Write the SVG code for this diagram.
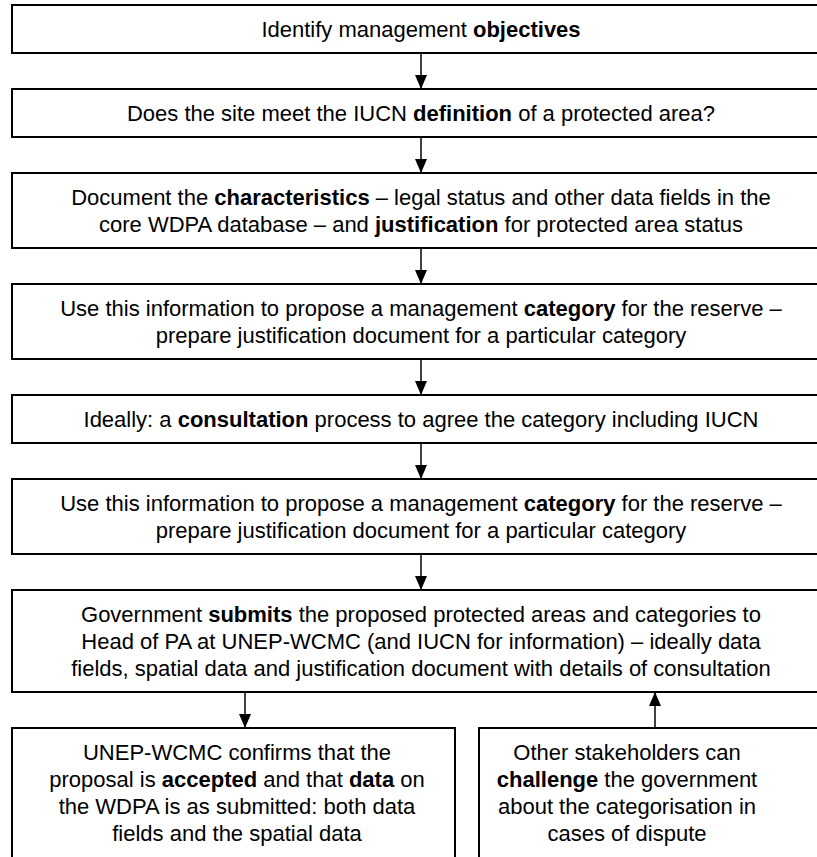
<svg xmlns="http://www.w3.org/2000/svg" width="817" height="857" viewBox="0 0 817 857">
<defs>
<marker id="ah" viewBox="0 0 14 12" refX="14" refY="6" markerWidth="14" markerHeight="12" markerUnits="userSpaceOnUse" orient="auto">
<path d="M0,0 L14,6 L0,12 z" fill="#000"/>
</marker>
<style>
.box{fill:#fff;stroke:#000;stroke-width:2}
.t{font-family:"Liberation Sans",Arial,sans-serif;font-size:22px;fill:#000;text-anchor:middle}
.b{font-weight:bold}
.c{stroke:#000;stroke-width:1.5;fill:none;marker-end:url(#ah)}
</style>
</defs>
<rect width="817" height="857" fill="#fff"/>
<g id="n1"><rect class="box" x="12" y="5" width="820" height="48"/>
<text class="t" x="421" y="37">Identify management <tspan class="b">objectives</tspan></text></g>
<g id="n2"><rect class="box" x="12" y="89" width="820" height="48"/>
<text class="t" x="421" y="121">Does the site meet the IUCN <tspan class="b">definition</tspan> of a protected area?</text></g>
<g id="n3"><rect class="box" x="12" y="173" width="820" height="75"/>
<text class="t" x="421" y="205">Document the <tspan class="b">characteristics</tspan> – legal status and other data fields in the</text>
<text class="t" x="421" y="232">core WDPA database – and <tspan class="b">justification</tspan> for protected area status</text></g>
<g id="n4"><rect class="box" x="12" y="284" width="820" height="75"/>
<text class="t" x="421" y="316">Use this information to propose a management <tspan class="b">category</tspan> for the reserve –</text>
<text class="t" x="421" y="343">prepare justification document for a particular category</text></g>
<g id="n5"><rect class="box" x="12" y="395" width="820" height="48"/>
<text class="t" x="421" y="427">Ideally: a <tspan class="b">consultation</tspan> process to agree the category including IUCN</text></g>
<g id="n6"><rect class="box" x="12" y="479" width="820" height="75"/>
<text class="t" x="421" y="511">Use this information to propose a management <tspan class="b">category</tspan> for the reserve –</text>
<text class="t" x="421" y="538">prepare justification document for a particular category</text></g>
<g id="n7"><rect class="box" x="12" y="590" width="820" height="102"/>
<text class="t" x="421" y="622">Government <tspan class="b">submits</tspan> the proposed protected areas and categories to</text>
<text class="t" x="421" y="649">Head of PA at UNEP-WCMC (and IUCN for information) – ideally data</text>
<text class="t" x="421" y="676">fields, spatial data and justification document with details of consultation</text></g>
<g id="n8"><rect class="box" x="12" y="728" width="443" height="150"/>
<text class="t" x="237" y="760">UNEP-WCMC confirms that the</text>
<text class="t" x="237" y="787">proposal is <tspan class="b">accepted</tspan> and that <tspan class="b">data</tspan> on</text>
<text class="t" x="237" y="814">the WDPA is as submitted: both data</text>
<text class="t" x="237" y="841">fields and the spatial data</text></g>
<g id="n9"><rect class="box" x="479" y="728" width="360" height="150"/>
<text class="t" x="627" y="760">Other stakeholders can</text>
<text class="t" x="627" y="787"><tspan class="b">challenge</tspan> the government</text>
<text class="t" x="627" y="814">about the categorisation in</text>
<text class="t" x="627" y="841">cases of dispute</text></g>
<g id="connectors">
<line class="c" x1="421" y1="53" x2="421" y2="89"/>
<line class="c" x1="421" y1="137" x2="421" y2="173"/>
<line class="c" x1="421" y1="248" x2="421" y2="284"/>
<line class="c" x1="421" y1="359" x2="421" y2="395"/>
<line class="c" x1="421" y1="443" x2="421" y2="479"/>
<line class="c" x1="421" y1="554" x2="421" y2="590"/>
<line class="c" x1="245" y1="692" x2="245" y2="728"/>
<line class="c" x1="655" y1="728" x2="655" y2="692"/>
</g>
</svg>
